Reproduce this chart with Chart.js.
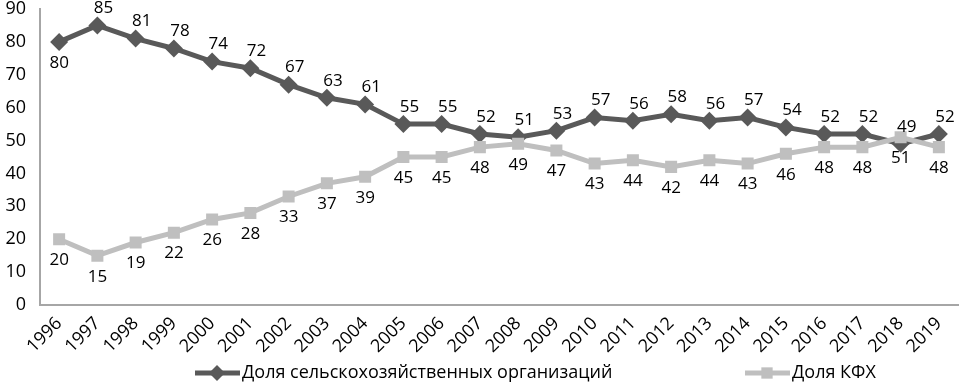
<!DOCTYPE html>
<html>
<head>
<meta charset="utf-8">
<script src="https://cdn.jsdelivr.net/npm/chart.js@4"></script>
<style>
  html, body { margin: 0; padding: 0; background: #fff; }
  #wrap { width: 967px; height: 383px; position: relative; }
</style>
</head>
<body>
<div id="wrap"><canvas id="line-chart"></canvas></div>
<script>
var years = ["1996", "1997", "1998", "1999", "2000", "2001", "2002", "2003", "2004", "2005", "2006", "2007",
    "2008", "2009", "2010", "2011", "2012", "2013", "2014", "2015", "2016", "2017", "2018", "2019"];
var shareSHO = [80, 85, 81, 78, 74, 72, 67, 63, 61, 55, 55, 52, 51, 53, 57, 56, 58, 56, 57, 54, 52, 52, 49, 52];
var shareKFH = [20, 15, 19, 22, 26, 28, 33, 37, 39, 45, 45, 48, 49, 47, 43, 44, 42, 44, 43, 46, 48, 48, 51, 48];
var seriesNames = ["Доля сельскохозяйственных организаций", "Доля КФХ"];
var yTicks = [0, 10, 20, 30, 40, 50, 60, 70, 80, 90];

var FONT = "'Open Sans', sans-serif";
var DARK = "#595959";
var LIGHT = "#bfbfbf";

// value labels: dark series above its points (first one below), light series below
var valueLabels = {
    id: 'valueLabels',
    afterDatasetsDraw: function (chart) {
        var ctx = chart.ctx;
        ctx.save();
        ctx.font = "17px " + FONT;
        ctx.fillStyle = "#000";
        ctx.textAlign = "center";
        ctx.textBaseline = "middle";
        chart.data.datasets.forEach(function (ds, i) {
            var meta = chart.getDatasetMeta(i);
            meta.data.forEach(function (pt, j) {
                var below = (i === 1) || (i === 0 && j === 0);
                var y = below ? pt.y + 21 : pt.y - 17;
                var x = pt.x + (below ? 0 : 6);
                if (i === 0 && j === 0) x = pt.x;
                ctx.fillText(String(ds.data[j]), x, y);
            });
        });
        ctx.restore();
    }
};

// legend with line + marker, drawn at the bottom
var lineLegend = {
    id: 'lineLegend',
    afterDraw: function (chart) {
        var ctx = chart.ctx;
        var y = 373;
        var items = [
            { x: 195, color: DARK, style: 'rectRot', text: seriesNames[0] },
            { x: 745, color: LIGHT, style: 'rect', text: seriesNames[1] }
        ];
        ctx.save();
        items.forEach(function (it) {
            ctx.strokeStyle = it.color;
            ctx.lineWidth = 5;
            ctx.beginPath();
            ctx.moveTo(it.x, y);
            ctx.lineTo(it.x + 45, y);
            ctx.stroke();
            ctx.fillStyle = it.color;
            Chart.helpers.drawPoint(ctx, { pointStyle: it.style, radius: 8, borderWidth: 0 }, it.x + 22, y);
            ctx.fillStyle = "#000";
            ctx.font = "18px " + FONT;
            ctx.textAlign = "left";
            ctx.textBaseline = "middle";
            ctx.fillText(it.text, it.x + 47, y);
        });
        ctx.restore();
    }
};

new Chart(document.getElementById("line-chart"), {
    type: 'line',
    data: {
        labels: years,
        datasets: [
            {
                label: seriesNames[0],
                data: shareSHO,
                order: 1,
                borderColor: DARK,
                backgroundColor: DARK,
                borderWidth: 5,
                pointStyle: 'rectRot',
                pointRadius: 9,
                pointBorderWidth: 0,
                tension: 0
            },
            {
                label: seriesNames[1],
                data: shareKFH,
                order: 0,
                borderColor: LIGHT,
                backgroundColor: LIGHT,
                borderWidth: 5,
                pointStyle: 'rect',
                pointRadius: 8.5,
                pointBorderWidth: 0,
                tension: 0
            }
        ]
    },
    plugins: [valueLabels, lineLegend],
    options: {
        maintainAspectRatio: false,
        responsive: true,
        animation: false,
        layout: { padding: { top: 7, left: 0, right: 0, bottom: 0 } },
        plugins: {
            legend: { display: false },
            tooltip: { enabled: false }
        },
        scales: {
            x: {
                offset: true,
                grid: { display: false, drawTicks: false },
                border: { color: "#a6a6a6", width: 2 },
                ticks: {
                    color: "#000",
                    font: { family: FONT, size: 18 },
                    maxRotation: 45,
                    minRotation: 45,
                    autoSkip: false,
                    padding: 8
                },
                afterFit: function (scale) {
                    scale.height = 78;
                    scale.paddingLeft = 0;
                    scale.paddingRight = 0;
                }
            },
            y: {
                min: 0,
                max: 90,
                afterBuildTicks: function (scale) {
                    scale.ticks = yTicks.map(function (v) { return { value: v }; });
                },
                grid: { display: false, drawTicks: false },
                border: { color: "#a6a6a6", width: 2 },
                ticks: {
                    color: "#000",
                    font: { family: FONT, size: 18 },
                    padding: 14
                },
                afterFit: function (scale) {
                    scale.width = 40;
                    scale.paddingTop = 0;
                    scale.paddingBottom = 0;
                }
            }
        }
    }
});
</script>
</body>
</html>
